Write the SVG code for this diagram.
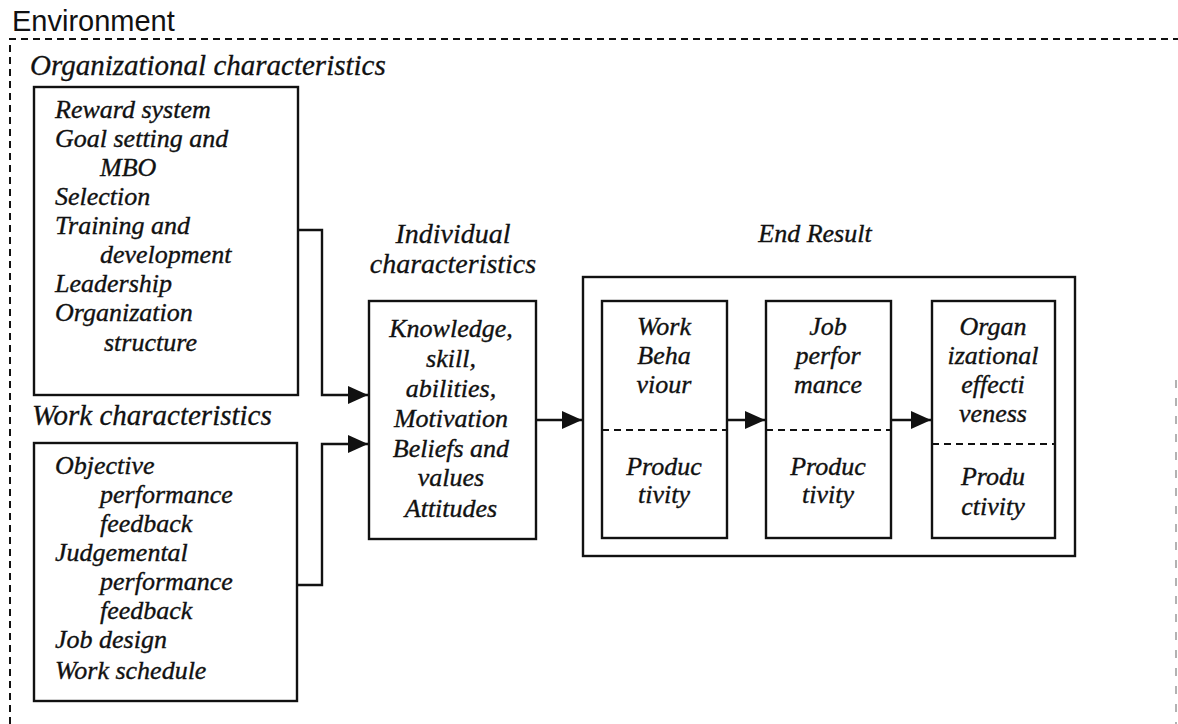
<svg xmlns="http://www.w3.org/2000/svg" width="1178" height="724" viewBox="0 0 1178 724">
<style>
.t{font-family:"Liberation Serif","Times New Roman",serif;font-style:italic;font-size:26px;fill:#111;stroke:#111;stroke-width:0.35}
.h{font-family:"Liberation Serif","Times New Roman",serif;font-style:italic;font-size:29px;fill:#111;stroke:#111;stroke-width:0.3}
.h2{font-family:"Liberation Serif","Times New Roman",serif;font-style:italic;font-size:28px;fill:#111;stroke:#111;stroke-width:0.3}
.c{text-anchor:middle}
.box{fill:none;stroke:#111;stroke-width:2.4}
.dash{fill:none;stroke:#111;stroke-width:2;stroke-dasharray:7 5}
.con{fill:none;stroke:#111;stroke-width:2.4}
</style>
<defs>
<marker id="ah" viewBox="0 0 20 18" refX="20" refY="9" markerWidth="20" markerHeight="18" markerUnits="userSpaceOnUse" orient="auto">
<path d="M0,0 L20,9 L0,18 Z" fill="#111"/>
</marker>
</defs>
<rect width="1178" height="724" fill="#fff"/>
<g id="environment">
<text x="12" y="31" font-family="Liberation Sans, Arial, sans-serif" font-size="29" fill="#111">Environment</text>
<path class="dash" d="M10,724 V39 H1178" stroke-dasharray="8 6"/>
<path d="M1176,380 V724" fill="none" stroke="#999" stroke-width="1.5" stroke-dasharray="8 10"/>
</g>
<g id="org">
<text class="h" x="30" y="75">Organizational characteristics</text>
<rect class="box" x="34" y="87" width="264" height="308"/>
<text class="t" x="55" y="118">Reward system</text>
<text class="t" x="55" y="147">Goal setting and</text>
<text class="t" x="100" y="176">MBO</text>
<text class="t" x="55" y="205">Selection</text>
<text class="t" x="55" y="234">Training and</text>
<text class="t" x="100" y="263">development</text>
<text class="t" x="55" y="292">Leadership</text>
<text class="t" x="55" y="321">Organization</text>
<text class="t" x="104" y="351">structure</text>
</g>
<g id="work">
<text class="h" x="32" y="425">Work characteristics</text>
<rect class="box" x="34" y="443" width="263" height="258"/>
<text class="t" x="55" y="474">Objective</text>
<text class="t" x="100" y="503">performance</text>
<text class="t" x="100" y="532">feedback</text>
<text class="t" x="55" y="561">Judgemental</text>
<text class="t" x="100" y="590">performance</text>
<text class="t" x="100" y="619">feedback</text>
<text class="t" x="55" y="648">Job design</text>
<text class="t" x="55" y="679">Work schedule</text>
</g>
<g id="individual">
<text class="h2 c" x="453" y="243">Individual</text>
<text class="h2 c" x="453" y="273">characteristics</text>
<rect class="box" x="369" y="301" width="167" height="238"/>
<text class="t c" x="451" y="337">Knowledge,</text>
<text class="t c" x="451" y="367">skill,</text>
<text class="t c" x="451" y="397">abilities,</text>
<text class="t c" x="451" y="427">Motivation</text>
<text class="t c" x="451" y="457">Beliefs and</text>
<text class="t c" x="451" y="486">values</text>
<text class="t c" x="451" y="517">Attitudes</text>
</g>
<g id="endresult">
<text class="t c" x="815" y="242">End Result</text>
<rect class="box" x="583" y="277" width="492" height="279"/>
</g>
<g id="workbehaviour">
<rect class="box" x="602" y="301" width="125" height="237"/>
<line class="dash" x1="602" y1="430" x2="727" y2="430"/>
<text class="t c" x="664" y="335">Work</text>
<text class="t c" x="664" y="364">Beha</text>
<text class="t c" x="664" y="393">viour</text>
<text class="t c" x="664" y="475">Produc</text>
<text class="t c" x="664" y="503">tivity</text>
</g>
<g id="jobperformance">
<rect class="box" x="766" y="301" width="125" height="237"/>
<line class="dash" x1="766" y1="430" x2="891" y2="430"/>
<text class="t c" x="828" y="335">Job</text>
<text class="t c" x="828" y="364">perfor</text>
<text class="t c" x="828" y="393">mance</text>
<text class="t c" x="828" y="475">Produc</text>
<text class="t c" x="828" y="503">tivity</text>
</g>
<g id="orgeffectiveness">
<rect class="box" x="932" y="301" width="123" height="237"/>
<line class="dash" x1="932" y1="444" x2="1055" y2="444"/>
<text class="t c" x="993" y="335">Organ</text>
<text class="t c" x="993" y="364">izational</text>
<text class="t c" x="993" y="393">effecti</text>
<text class="t c" x="993" y="422">veness</text>
<text class="t c" x="993" y="485">Produ</text>
<text class="t c" x="993" y="515">ctivity</text>
</g>
<g id="connectors">
<path class="con" d="M298,230 H322 V395 H368" marker-end="url(#ah)"/>
<path class="con" d="M297,585 H322 V444 H368" marker-end="url(#ah)"/>
<path class="con" d="M536,420 H582" marker-end="url(#ah)"/>
<path class="con" d="M727,420 H765" marker-end="url(#ah)"/>
<path class="con" d="M891,420 H931" marker-end="url(#ah)"/>
</g>
</svg>
